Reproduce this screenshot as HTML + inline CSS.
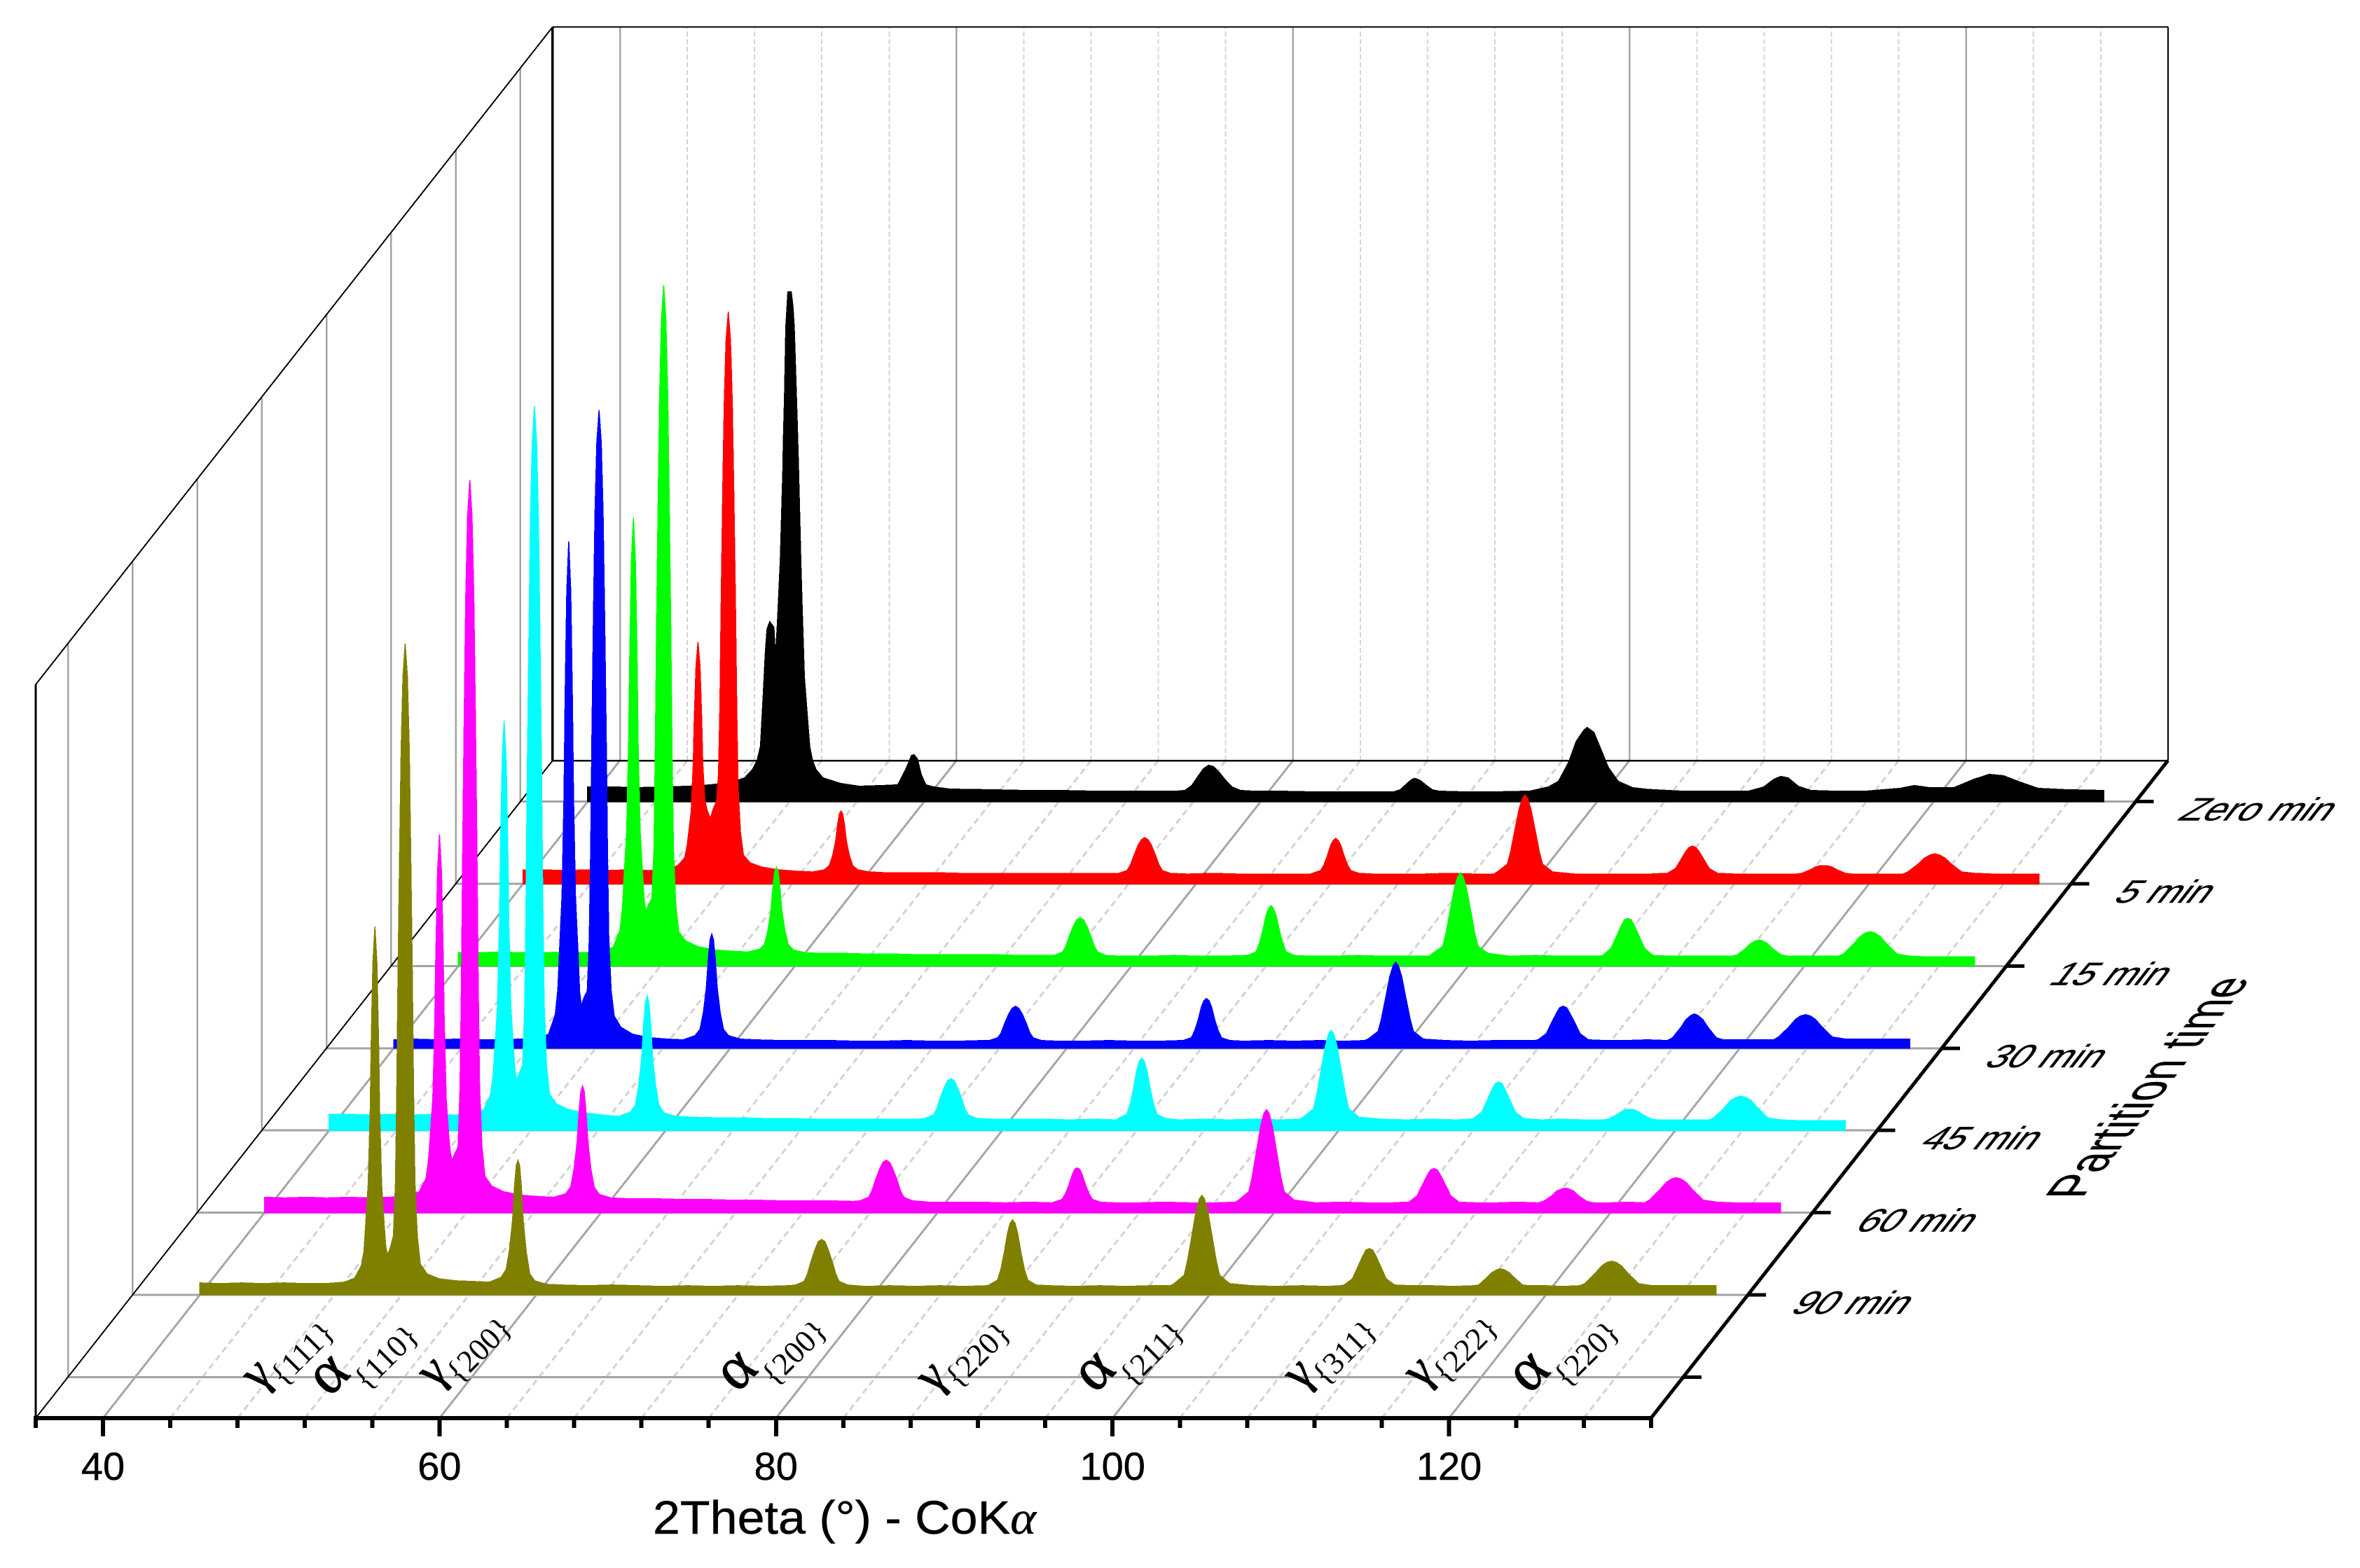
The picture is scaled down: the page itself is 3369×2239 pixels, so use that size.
<!DOCTYPE html>
<html>
<head>
<meta charset="utf-8">
<title>XRD patterns vs partition time</title>
<style>
html,body{margin:0;padding:0;background:#fff;}
svg{display:block;}
text{font-family:"Liberation Sans",sans-serif;fill:#000;}
.serif{font-family:"Liberation Serif",serif;}
</style>
</head>
<body>
<svg id="chart" xmlns="http://www.w3.org/2000/svg" width="3369" height="2239" viewBox="0 0 3369 2239" shape-rendering="crispEdges">
<rect x="0" y="0" width="3369" height="2239" fill="#fff"/>
<g id="grid"></g>
<g id="frame"></g>
<g id="series"></g>
<g id="ticks"></g>
<text x="932" y="2190" font-size="67" textLength="547" lengthAdjust="spacingAndGlyphs" stroke="#000" stroke-width="0.5">2Theta (°) - CoK<tspan class="serif" font-style="italic">α</tspan></text>
<text transform="matrix(0.648,-0.845,1.24,0,2972,1711)" font-size="64" stroke="#000" stroke-width="0.4">Partition time</text>
<g id="peak-labels" class="serif">
<text class="serif" transform="translate(370,1988) rotate(-45)"><tspan x="0" y="0" font-size="70" stroke="#000" stroke-width="1">γ</tspan><tspan x="29" y="19" font-size="45">{111}</tspan></text>
<text class="serif" transform="translate(470,1996) rotate(-45)"><tspan x="0" y="0" font-size="88" stroke="#000" stroke-width="1">α</tspan><tspan x="44" y="31" font-size="45">{110}</tspan></text>
<text class="serif" transform="translate(621,1984) rotate(-45)"><tspan x="0" y="0" font-size="70" stroke="#000" stroke-width="1">γ</tspan><tspan x="29" y="19" font-size="45">{200}</tspan></text>
<text class="serif" transform="translate(1052,1990) rotate(-45)"><tspan x="0" y="0" font-size="88" stroke="#000" stroke-width="1">α</tspan><tspan x="44" y="31" font-size="45">{200}</tspan></text>
<text class="serif" transform="translate(1333,1991) rotate(-45)"><tspan x="0" y="0" font-size="70" stroke="#000" stroke-width="1">γ</tspan><tspan x="29" y="19" font-size="45">{220}</tspan></text>
<text class="serif" transform="translate(1563,1991) rotate(-45)"><tspan x="0" y="0" font-size="88" stroke="#000" stroke-width="1">α</tspan><tspan x="44" y="31" font-size="45">{211}</tspan></text>
<text class="serif" transform="translate(1857,1987) rotate(-45)"><tspan x="0" y="0" font-size="70" stroke="#000" stroke-width="1">γ</tspan><tspan x="29" y="19" font-size="45">{311}</tspan></text>
<text class="serif" transform="translate(2029,1984) rotate(-45)"><tspan x="0" y="0" font-size="70" stroke="#000" stroke-width="1">γ</tspan><tspan x="29" y="19" font-size="45">{222}</tspan></text>
<text class="serif" transform="translate(2183,1992) rotate(-45)"><tspan x="0" y="0" font-size="88" stroke="#000" stroke-width="1">α</tspan><tspan x="44" y="31" font-size="45">{220}</tspan></text>
</g>
</svg>
<script>
const xTickValues = [36,40,44,48,52,56,60,64,68,72,76,80,84,88,92,96,100,104,108,112,116,120,124,128,132];
const xMajorLabels = ['40','60','80','100','120'];
const depthLabels = ['','90 min','60 min','45 min','30 min','15 min','5 min','Zero min'];

const twoTheta = [
40,41.2,42.5,43.7,45,46.2,47.5,
48.6,49.2,
49.6,49.75,49.85,50.0,50.12,50.18,50.28,50.4,50.52,50.62,50.68,50.8,50.95,
51.05,51.15,51.3,
51.5,51.62,51.7,51.78,51.87,51.96,52.07,52.2,52.33,52.44,52.53,52.62,52.7,52.78,52.92,53.1,
53.5,54.2,55.2,56.3,57.2,
57.9,58.2,58.4,58.58,58.7,58.8,58.9,59,59.1,59.22,59.4,59.6,59.9,60.6,
61.5,63,64.5,66,67.5,69,70.5,72,73.5,75,
75.4,75.9,76.1,76.3,76.55,76.75,76.95,77.15,77.35,77.6,77.8,78,78.5,
79.5,81,82.5,84,85.5,86.8,
86.9,87.4,87.6,87.8,88,88.15,88.3,88.45,88.6,88.8,89,89.2,89.7,
90.5,92,93.5,95,96.5,97.7,
97.9,98.5,98.7,98.9,99.2,99.4,99.55,99.7,99.9,100.2,100.4,100.6,101.2,
102.5,104,105.5,107,107.8,
108,108.5,108.8,109.1,109.3,109.5,109.7,109.9,110.2,110.5,111,
112,113.2,114.5,115.7,
116,116.5,116.8,117.1,117.3,117.5,117.8,118.1,118.6,119,
120,121,122,
122.3,122.9,123.3,123.6,123.9,124.2,124.5,124.9,125.5,126.3,
127.3,128.5,130.1
];

const intensity90min = [
17,16,17,16,17,16,16,
18,24,
42,62,100,158,263,358,473,526,473,358,263,158,100,
68,57,66,
84,158,288,465,632,781,884,930,884,781,632,465,288,158,84,44,
30,23,20,19,18,
25,36,64,106,155,185,192,185,155,104,60,30,20,15,
14,13,14,13,12,13,12,13,12,13,
14,19,29,46,64,76,79,76,64,46,29,19,14,
12,13,12,13,12,13,
14,21,36,60,88,102,107,102,88,60,36,21,14,
13,12,13,12,13,13,
16,28,49,77,119,137,142,137,119,77,49,28,16,
13,12,13,12,13,
14,23,39,55,64,66,64,55,39,23,14,
13,13,12,13,
14,25,32,36,37,36,32,25,14,13,
13,12,13,
16,30,41,46,48,46,41,30,16,13,
13,13,13
];

const intensity60min = [
22,21,22,21,22,21,22,
24,30,
49,76,110,162,270,367,486,540,486,367,270,162,110,
85,75,84,
94,178,324,523,711,879,994,1046,994,879,711,523,324,178,94,52,
38,30,25,23,22,
27,37,63,101,146,173,181,173,146,101,62,36,26,21,
20,20,19,19,18,18,17,17,17,16,
17,22,31,46,62,72,75,72,62,46,31,22,17,
15,15,15,14,15,14,
15,19,27,39,54,62,64,62,54,39,27,19,15,
14,14,15,14,14,15,
18,30,51,80,123,142,147,142,123,80,51,30,18,
14,15,14,14,15,
15,24,39,53,61,63,61,53,39,24,15,
14,14,15,14,
16,24,31,34,35,34,31,24,16,14,
14,15,14,
18,32,43,48,50,48,43,32,18,15,
14,14,14
];

const intensity45min = [
23,23,22,23,22,23,22,
24,30,
52,81,118,176,293,398,527,585,527,398,293,176,118,
85,72,82,
93,176,321,517,703,869,982,1034,982,869,703,517,321,176,93,52,
38,30,25,22,20,
26,36,64,105,154,183,192,183,154,105,64,36,25,20,
19,18,18,17,17,16,16,16,16,16,
17,22,30,45,61,71,74,71,61,45,30,22,17,
16,16,16,15,16,15,
17,23,37,59,86,99,103,99,86,59,37,23,17,
15,16,15,16,15,16,
19,31,51,79,120,138,143,138,120,79,51,31,19,
16,15,16,15,16,
17,26,42,58,67,69,67,58,42,26,17,
15,16,15,15,
16,22,27,30,30,30,27,22,16,15,
15,15,15,
18,32,43,47,49,47,43,32,18,15,
14,14,14
];

const intensity30min = [
12,13,12,13,12,12,13,
14,20,
48,83,138,217,362,492,652,724,652,492,362,217,138,
80,61,72,
82,155,282,456,619,765,865,911,865,765,619,456,282,155,82,46,
30,20,15,13,12,
18,27,51,87,130,155,163,155,130,87,51,27,18,13,
12,11,11,11,10,10,11,10,10,11,
11,15,22,35,49,57,60,57,49,35,22,15,11,
10,10,11,10,10,11,
11,15,25,40,59,68,71,68,59,40,25,15,11,
10,11,10,11,10,11,
13,24,42,66,103,118,123,118,103,66,42,24,13,
11,10,11,11,11,
12,21,36,50,58,60,58,50,36,21,12,
11,11,12,11,
15,30,41,47,49,47,41,30,15,12,
12,12,12,
16,30,41,46,48,46,41,30,16,13,
13,13,13
];

const intensity15min = [
19,19,20,19,19,20,19,
21,27,
51,83,129,192,320,435,576,640,576,435,320,192,129,
92,77,88,
96,165,301,486,661,816,923,972,923,816,661,486,301,165,87,49,
36,28,23,21,20,
24,31,51,80,114,135,141,135,114,80,51,31,23,19,
18,18,17,17,16,16,16,16,15,15,
15,20,28,42,57,66,69,66,57,42,28,20,15,
14,14,15,14,14,15,
15,20,32,50,72,82,86,82,72,50,32,20,15,
14,14,15,14,14,14,
18,28,47,74,112,128,133,128,112,74,47,28,18,
14,15,14,14,14,
15,25,41,57,66,68,66,57,41,25,15,
14,14,14,14,
16,25,32,36,37,36,32,25,16,14,
14,14,14,
17,31,42,47,49,47,42,31,17,14,
13,13,13
];

const intensity5min = [
20,20,19,20,19,20,19,
21,26,
37,53,74,104,173,235,311,345,311,235,173,120,105,
98,94,107,
118,156,253,409,556,686,776,817,776,686,556,409,253,139,74,41,
30,24,20,18,17,
20,26,40,61,85,100,104,100,85,61,40,26,20,17,
16,16,16,15,15,15,15,15,15,15,
15,19,27,40,55,63,66,63,55,40,27,19,15,
14,15,14,14,14,14,
15,19,27,40,55,62,65,62,55,40,27,19,15,
14,14,14,15,14,14,
17,28,46,71,107,122,127,122,107,71,46,28,17,
14,14,14,14,15,
15,22,34,46,52,54,52,46,34,22,15,
14,14,14,14,
15,20,24,26,26,26,24,20,15,14,
14,14,14,
17,28,37,41,43,41,37,28,17,15,
14,14,14
];

const twoThetaZero = [
40,41.5,43,44.5,46,47.3,48,49,49.33,49.8,50.07,50.27,50.42,50.56,50.66,50.82,51.07,51.16,51.26,51.36,51.45,
51.6,51.63,51.7,51.78,51.9,52.1,52.2,52.28,52.36,52.45,52.53,52.67,52.75,52.88,52.98,53.2,53.36,53.57,53.99,55.03,56.14,
57.5,58.43,58.9,59.25,59.4,59.6,59.82,60.1,60.57,61.5,62.5,64,66,68,70,72,74,
75,75.5,75.9,76.3,76.6,76.9,77.2,77.5,77.9,78.3,78.8,79.5,81,83,85,87,
87.9,88.3,88.7,89,89.2,89.5,89.8,90.2,90.6,92,94,96,
97.1,97.7,98.3,98.75,99.2,99.4,99.8,100.2,100.66,101.25,102.1,103,105,107,109,
109.9,110.5,110.9,111.35,111.95,112.7,114,116,118,118.85,119.75,121.2,122.4,123.3,124.15,125,126.2,127.9,130.1
];

const intensityZero = [
21,21,20,21,22,24,26,31,34,46,59,79,146,212,246,257,249,207,246,296,345,
472,512,578,678,728,728,708,678,615,548,482,345,278,178,146,79,59,46,34,26,22,
23,24,46,66,67,61,39,24,21,18,17.5,17,16,16,15,15,15,
15,16,23,37,47,52,50,43,31,21,16,15,15,14,14,14,
14,17,26,32,33,30,24,17,15,14,14,15,
21,29,56,86,102,106,99,76,49,29,20,17.5,15,15,15,
21,32,36,34,22,16,15,15,19,23,20,20,32,39,37,29,19,17,16
];

const seriesColors = ['#808000','#ff00ff','#00ffff','#0000ff','#00ff00','#ff0000','#000000'];
const seriesDepthIndex = [1,2,3,4,5,6,7];
const seriesThetas = [twoTheta,twoTheta,twoTheta,twoTheta,twoTheta,twoTheta,twoThetaZero];
const seriesIntensities = [intensity90min,intensity60min,intensity45min,intensity30min,intensity15min,intensity5min,intensityZero];

const NS = 'http://www.w3.org/2000/svg';
const X0 = 147, PER_DEG = 24.02, FLOOR_Y = 2025, DX = 738, DY = 939, WALL = 1047.5, DEPTH_N = 8;
function xScale(v){ return X0 + (v - 40) * PER_DEG; }
function depthFrac(i){ return (i + 0.5) / DEPTH_N; }
function project(theta, frac, z){ return [xScale(theta) + frac * DX, FLOOR_Y - frac * DY - z]; }

function addLine(parent, name, x1, y1, x2, y2, color, width, dash){
  const el = document.createElementNS(NS, 'line');
  
  
  el.setAttribute('x1', x1);
  el.setAttribute('y1', y1);
  el.setAttribute('x2', x2);
  el.setAttribute('y2', y2);
  el.setAttribute('stroke', color);
  el.setAttribute('stroke-width', width);
  if (dash) el.setAttribute('stroke-dasharray', dash);
  parent.appendChild(el);
  return el;
}

const gridG = document.getElementById('grid');
const frameG = document.getElementById('frame');
const seriesG = document.getElementById('series');
const ticksG = document.getElementById('ticks');
const xMin = xTickValues[0], xMax = xTickValues[xTickValues.length - 1];

xTickValues.forEach(function(v, i){
  if (i === 0 || i === xTickValues.length - 1) return;
  const major = (v - 40) % 20 === 0;
  const a = project(v, 0, 0), b = project(v, 1, 0);
  const c = major ? '#a6a6a6' : '#d3d3d3';
  addLine(gridG, major ? 'floor-gridline-major' : 'floor-gridline-minor', a[0], a[1], b[0], b[1], c, 3, major ? null : '9 6');
  addLine(gridG, major ? 'wall-gridline-major' : 'wall-gridline-minor', b[0], b[1], b[0], b[1] - WALL, c, major ? 2.5 : 2, major ? null : '7 4');
});

depthLabels.forEach(function(label, i){
  const f = depthFrac(i);
  const l = project(xMin, f, 0), r = project(xMax, f, 0);
  addLine(gridG, 'floor-gridline-depth', l[0], l[1], r[0], r[1], '#a3a3a3', 3);
  addLine(gridG, 'left-wall-gridline', l[0], l[1], l[0], l[1] - WALL, '#a3a3a3', 2.5);
});

const fl = project(xMin, 0, 0), fr = project(xMax, 0, 0), bl = project(xMin, 1, 0), br = project(xMax, 1, 0);
addLine(frameG, 'back-floor-edge', bl[0], bl[1], br[0], br[1], '#000', 2.5);
addLine(frameG, 'left-floor-edge', fl[0], fl[1], bl[0], bl[1], '#000', 2);
addLine(frameG, 'left-top-edge', fl[0], fl[1] - WALL, bl[0], bl[1] - WALL, '#000', 2);
addLine(frameG, 'back-top-edge', bl[0], bl[1] - WALL, br[0], br[1] - WALL, '#000', 2);
addLine(frameG, 'back-right-edge', br[0], br[1], br[0], br[1] - WALL, '#000', 2);
addLine(frameG, 'back-left-edge', bl[0], bl[1], bl[0], bl[1] - WALL, '#000', 3.5);
addLine(frameG, 'front-left-edge', fl[0], fl[1], fl[0], fl[1] - WALL, '#000', 3);

seriesDepthIndex.slice().reverse().forEach(function(depth, revIdx){
  const idx = seriesDepthIndex.length - 1 - revIdx;
  const th = seriesThetas[idx], ys = seriesIntensities[idx], f = depthFrac(depth);
  const s = project(th[0], f, 0);
  let d = 'M' + s[0].toFixed(1) + ' ' + s[1].toFixed(1);
  for (let j = 0; j < th.length; j++) {
    const p = project(th[j], f, ys[j]);
    d += 'L' + p[0].toFixed(1) + ' ' + p[1].toFixed(1);
  }
  const e = project(th[th.length - 1], f, 0);
  d += 'L' + e[0].toFixed(1) + ' ' + e[1].toFixed(1) + 'Z';
  const path = document.createElementNS(NS, 'path');
  
  
  path.setAttribute('d', d);
  path.setAttribute('fill', seriesColors[idx]);
  path.setAttribute('stroke', seriesColors[idx]);
  path.setAttribute('stroke-width', '1.5');
  seriesG.appendChild(path);
});

addLine(ticksG, 'x-axis-line', fl[0] - 3, fl[1], fr[0] + 3, fr[1], '#000', 6);
addLine(ticksG, 'depth-axis-line', fr[0], fr[1], br[0], br[1], '#000', 5);

let majorIdx = 0;
xTickValues.forEach(function(v){
  const major = (v - 40) % 20 === 0 && v >= 40 && v <= 120;
  const x = xScale(v);
  addLine(ticksG, major ? 'x-major-tick' : 'x-minor-tick', x, FLOOR_Y, x, FLOOR_Y + (major ? 26 : 14), '#000', 6);
  if (major) {
    const t = document.createElementNS(NS, 'text');
    
    
    t.setAttribute('x', x);
    t.setAttribute('y', 2113);
    t.setAttribute('font-size', '56');
    t.setAttribute('text-anchor', 'middle');
    t.setAttribute('stroke', '#000');
    t.setAttribute('stroke-width', '0.5');
    t.textContent = xMajorLabels[majorIdx++];
    ticksG.appendChild(t);
  }
});

depthLabels.forEach(function(label, i){
  const e = project(xMax, depthFrac(i), 0);
  addLine(ticksG, 'depth-tick', e[0], e[1], e[0] + 26, e[1], '#000', 5);
  if (label) {
    const t = document.createElementNS(NS, 'text');
    
    
    t.setAttribute('font-size', '46');
    t.setAttribute('stroke', '#000');
    t.setAttribute('stroke-width', '0.4');
    t.setAttribute('transform', 'matrix(1.18,0,-0.78,1,' + (e[0] + 58).toFixed(1) + ',' + (e[1] + 27).toFixed(1) + ')');
    t.textContent = label;
    ticksG.appendChild(t);
  }
});
</script>
</body>
</html>
